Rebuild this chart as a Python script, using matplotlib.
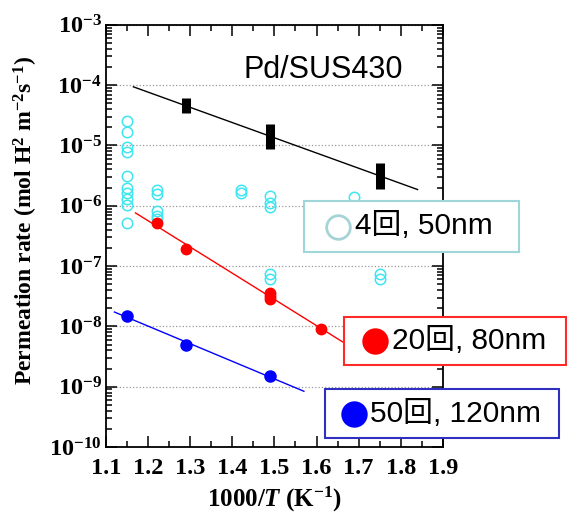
import numpy as np
import matplotlib
matplotlib.use('Agg')
import matplotlib.pyplot as plt
from matplotlib.patches import Rectangle
from matplotlib.lines import Line2D
from matplotlib.ticker import LogLocator, FuncFormatter, MultipleLocator, NullFormatter

plt.rcParams['font.family'] = ['Liberation Serif', 'DejaVu Serif']
plt.rcParams['font.weight'] = 'bold'
plt.rcParams['axes.labelweight'] = 'bold'
plt.rcParams['mathtext.fontset'] = 'custom'
plt.rcParams['mathtext.rm'] = 'Liberation Serif:bold'
plt.rcParams['mathtext.bf'] = 'Liberation Serif:bold'
plt.rcParams['mathtext.it'] = 'Liberation Serif:bold:italic'

# open circles (4 cycles, 50 nm)
open_x = [1.15] * 10 + [1.22] * 5 + [1.42] * 2 + [1.49] * 3 + [1.69] + [1.49] * 2 + [1.75] * 2
open_y = [2.5e-5, 1.66e-5, 9.3e-6, 7.9e-6, 3.1e-6, 2.0e-6, 1.6e-6, 1.28e-6, 1.05e-6, 5.2e-7,
          1.86e-6, 1.55e-6, 8.1e-7, 6.9e-7, 6.1e-7,
          1.86e-6, 1.6e-6,
          1.43e-6, 1.1e-6, 9.5e-7,
          1.4e-6,
          7.4e-8, 6.0e-8,
          7.4e-8, 6.0e-8]

# Pd/SUS430 (black bars: range of values)
black_x = [1.29, 1.49, 1.75]
black_lo = [3.4e-5, 8.7e-6, 1.9e-6]
black_hi = [6.1e-5, 2.3e-5, 5.2e-6]

# 20 cycles, 80 nm
red_x = [1.22, 1.29, 1.49, 1.49, 1.49, 1.61]
red_y = [5.2e-7, 1.9e-7, 3.6e-8, 3.2e-8, 2.9e-8, 8.9e-9]

# 50 cycles, 120 nm
blue_x = [1.15, 1.29, 1.49]
blue_y = [1.5e-8, 5.0e-9, 1.5e-9]

fig = plt.figure(figsize=(5.67, 5.18), dpi=100)
ax = fig.add_axes([0.187, 0.137, 0.594, 0.815])
ax.set_yscale('log')


def fit_line(x, y, x0, x1, color):
    p = np.polyfit(x, np.log10(y), 1)
    xx = np.array([x0, x1])
    ax.plot(xx, 10 ** np.polyval(p, xx), color=color, lw=1, zorder=2)


bc = np.sqrt(np.array(black_lo) * np.array(black_hi))
fit_line(black_x, bc, 1.165, 1.84, 'black')
fit_line(red_x, red_y, 1.17, 1.70, 'red')
fit_line(blue_x, blue_y, 1.12, 1.57, 'blue')

ax.plot(open_x, open_y, 'o', ms=7.5, mfc='none', mec='#3ee6f2', mew=1.1, zorder=3)
ax.vlines(black_x, black_lo, black_hi, color='black', lw=6.5, zorder=4)
ax.plot(red_x, red_y, 'o', ms=7.5, color='red', zorder=4)
ax.plot(blue_x, blue_y, 'o', ms=8, color='blue', zorder=4)

ax.set_xlim(1.1, 1.9)
ax.set_ylim(1e-10, 1e-3)
ax.xaxis.set_major_locator(MultipleLocator(0.1))
ax.xaxis.set_minor_locator(MultipleLocator(0.05))
ax.xaxis.set_major_formatter(FuncFormatter(lambda v, _: '%.1f' % v))
ax.yaxis.set_major_locator(LogLocator(base=10, numticks=20))
ax.yaxis.set_minor_locator(LogLocator(base=10, subs=np.arange(2, 10), numticks=20))
ax.yaxis.set_minor_formatter(NullFormatter())
ax.yaxis.set_major_formatter(FuncFormatter(lambda v, _: r'$10^{%d}$' % round(np.log10(v))))
ax.tick_params(which='both', direction='in', top=True, right=True, width=1.1, labelsize=17.5)
ax.tick_params(which='major', length=8)
ax.tick_params(which='minor', length=4.5)
ax.tick_params(axis='x', pad=8)
ax.tick_params(axis='y', pad=3)
for s in ax.spines.values():
    s.set_linewidth(1.3)
ax.yaxis.grid(True, which='major', ls=':', color='#999999', lw=0.9)

ax.set_xlabel(r'1000/$T$ (K$^{-1}$)', fontsize=18, labelpad=4)
ax.set_ylabel(r'Permeation rate (mol H$^{2}$ m$^{-2}$s$^{-1}$)', fontsize=17)
ax.yaxis.set_label_coords(-0.197, 0.536)

sans = ['Liberation Sans', 'Noto Sans CJK JP']
fig.text(0.4286, 0.865, 'Pd/SUS430', fontsize=22, family=sans, weight='normal', va='center')

# legend boxes
boxes = [
    (304, 201, 519, 252, '#9fd6da', 338, 'none', '#a6d3d6', 355, '4回, 50nm'),
    (344, 317, 566, 365, '#ff2a2a', 375, 'red', 'red', 392, '20回, 80nm'),
    (325, 389, 559, 438, '#3030c0', 354, 'blue', 'blue', 370, '50回, 120nm'),
]
W, H = 567.0, 518.0
for x0, y0, x1, y1, ec, cx, fc, mc, tx, label in boxes:
    fig.add_artist(Rectangle((x0 / W, 1 - y1 / H), (x1 - x0) / W, (y1 - y0) / H,
                             transform=fig.transFigure, facecolor='white', edgecolor=ec,
                             lw=1.5, zorder=5))
    yc = 1 - (y0 + y1) / 2 / H
    fig.add_artist(Line2D([cx / W], [yc], transform=fig.transFigure, marker='o', ms=17,
                          mfc=fc, mec=mc, mew=2, ls='none', zorder=6))
    fig.text(tx / W, yc, label, fontsize=21.5, family=sans, weight='normal', va='center',
             zorder=6)

fig.savefig('out.png', dpi=100)
